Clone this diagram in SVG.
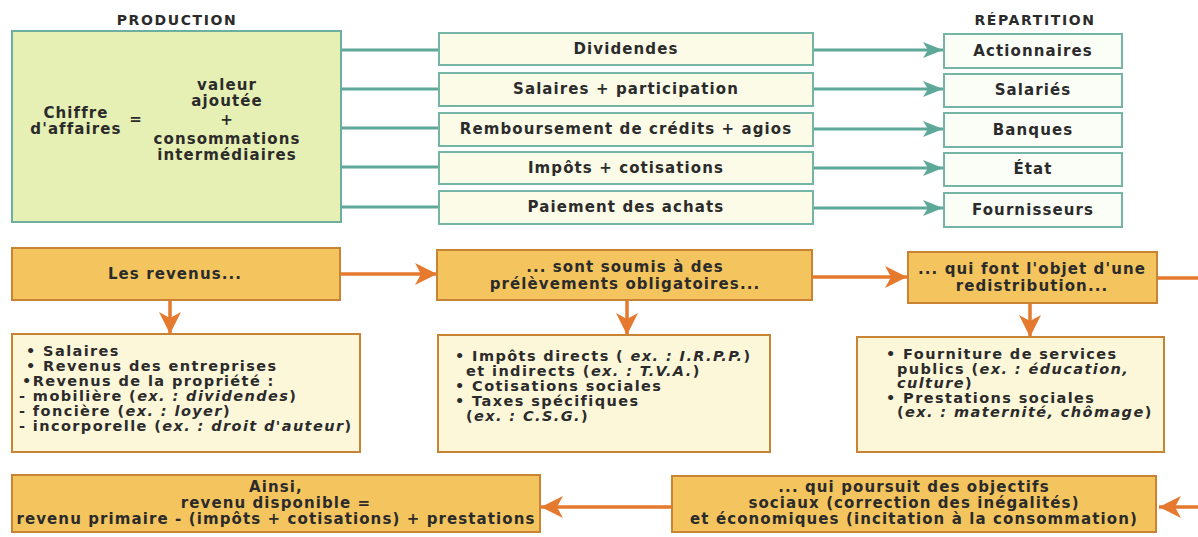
<svg xmlns="http://www.w3.org/2000/svg" width="1198" height="537" viewBox="0 0 1198 537">
<style>
text{font-family:"DejaVu Sans","Liberation Sans",sans-serif;font-weight:bold;fill:#2b2b2b;font-size:15px;letter-spacing:1.1px}
.c{text-anchor:middle}
.l{font-size:14.5px;letter-spacing:1.4px}
.t{font-size:14px;letter-spacing:1.6px}
.i{font-style:italic}
.green{fill:#e7f0b4;stroke:#6aaf9f;stroke-width:2}
.mid{fill:#fbfbe7;stroke:#74b5a6;stroke-width:2}
.rep{fill:#fbfdf7;stroke:#74b5a6;stroke-width:2}
.gold{fill:#f4c55e;stroke:#c98334;stroke-width:2}
.cream{fill:#fdf7da;stroke:#c98334;stroke-width:2}
.tl{stroke:#5ea89a;stroke-width:3;fill:none}
.ol{stroke:#e57a2e;stroke-width:3.5;fill:none}
</style>
<defs>
<marker id="ta" markerUnits="userSpaceOnUse" markerWidth="20" markerHeight="16" refX="20" refY="8" orient="auto"><path d="M0,0 L20,8 L0,16 L5,8 z" fill="#5ea89a"/></marker>
<marker id="oa" markerUnits="userSpaceOnUse" markerWidth="22" markerHeight="22" refX="22" refY="11" orient="auto"><path d="M0,0 L22,11 L0,22 L6,11 z" fill="#e57a2e"/></marker>
</defs>

<text class="c t" x="177" y="25">PRODUCTION</text>
<text class="c t" x="1035" y="25">RÉPARTITION</text>

<g id="connectors">
<path class="tl" d="M341,50 H439"/>
<path class="tl" d="M341,89 H439"/>
<path class="tl" d="M341,128 H439"/>
<path class="tl" d="M341,167 H439"/>
<path class="tl" d="M341,207 H439"/>
<path class="tl" d="M813,50 H943" marker-end="url(#ta)"/>
<path class="tl" d="M813,89 H943" marker-end="url(#ta)"/>
<path class="tl" d="M813,129 H943" marker-end="url(#ta)"/>
<path class="tl" d="M813,168 H943" marker-end="url(#ta)"/>
<path class="tl" d="M813,208 H943" marker-end="url(#ta)"/>
<path class="ol" d="M340,274 H437" marker-end="url(#oa)"/>
<path class="ol" d="M812,277 H907" marker-end="url(#oa)"/>
<path class="ol" d="M170,300 V334" marker-end="url(#oa)"/>
<path class="ol" d="M627,300 V335" marker-end="url(#oa)"/>
<path class="ol" d="M1030,303 V337" marker-end="url(#oa)"/>
<path class="ol" d="M1157,278 H1215 V507 H1159" marker-end="url(#oa)"/>
<path class="ol" d="M671,507 H541" marker-end="url(#oa)"/>
</g>

<g id="production">
<rect class="green" x="12" y="31" width="329" height="191"/>
<text class="c" x="76" y="118">Chiffre</text>
<text class="c" x="76" y="134">d'affaires</text>
<text class="c" x="136" y="124">=</text>
<text class="c" x="227" y="90">valeur</text>
<text class="c" x="227" y="106">ajoutée</text>
<text class="c" x="227" y="125">+</text>
<text class="c" x="227" y="144">consommations</text>
<text class="c" x="227" y="160">intermédiaires</text>
</g>

<g id="dividendes"><rect class="mid" x="439" y="33" width="374" height="32"/><text class="c" x="626" y="54">Dividendes</text></g>
<g id="salaires"><rect class="mid" x="439" y="73" width="374" height="33"/><text class="c" x="626" y="94">Salaires + participation</text></g>
<g id="remboursement"><rect class="mid" x="439" y="113" width="374" height="33"/><text class="c" x="626" y="134">Remboursement de crédits + agios</text></g>
<g id="impots"><rect class="mid" x="439" y="152" width="374" height="32"/><text class="c" x="626" y="173">Impôts + cotisations</text></g>
<g id="paiement"><rect class="mid" x="439" y="191" width="374" height="33"/><text class="c" x="626" y="212">Paiement des achats</text></g>

<g id="actionnaires"><rect class="rep" x="944" y="34" width="178" height="34"/><text class="c" x="1033" y="56">Actionnaires</text></g>
<g id="salaries"><rect class="rep" x="944" y="74" width="178" height="33"/><text class="c" x="1033" y="95">Salariés</text></g>
<g id="banques"><rect class="rep" x="944" y="113" width="178" height="34"/><text class="c" x="1033" y="135">Banques</text></g>
<g id="etat"><rect class="rep" x="944" y="153" width="178" height="33"/><text class="c" x="1033" y="174">État</text></g>
<g id="fournisseurs"><rect class="rep" x="944" y="193" width="178" height="34"/><text class="c" x="1033" y="215">Fournisseurs</text></g>

<g id="revenus"><rect class="gold" x="12" y="248" width="328" height="52"/><text class="c" x="175" y="279">Les revenus...</text></g>
<g id="prelevements"><rect class="gold" x="437" y="250" width="375" height="50"/>
<text class="c" x="625" y="272">... sont soumis à des</text>
<text class="c" x="625" y="289">prélèvements obligatoires...</text></g>
<g id="redistribution"><rect class="gold" x="908" y="252" width="249" height="51"/>
<text class="c" x="1032" y="274">... qui font l'objet d'une</text>
<text class="c" x="1032" y="291">redistribution...</text></g>

<g id="liste-revenus"><rect class="cream" x="12" y="334" width="348" height="118"/>
<text class="l" x="26" y="356">• Salaires</text>
<text class="l" x="26" y="371">• Revenus des entreprises</text>
<text class="l" x="22" y="386">•Revenus de la propriété :</text>
<text class="l" x="19" y="401">- mobilière (<tspan class="i">ex. : dividendes</tspan>)</text>
<text class="l" x="19" y="416">- foncière (<tspan class="i">ex. : loyer</tspan>)</text>
<text class="l" x="19" y="431">- incorporelle (<tspan class="i">ex. : droit d'auteur</tspan>)</text>
</g>

<g id="liste-prelevements"><rect class="cream" x="438" y="335" width="332" height="117"/>
<text class="l" x="455" y="361">• Impôts directs ( <tspan class="i">ex. : I.R.P.P.</tspan>)</text>
<text class="l" x="466" y="376">et indirects (<tspan class="i">ex. : T.V.A.</tspan>)</text>
<text class="l" x="455" y="391">• Cotisations sociales</text>
<text class="l" x="455" y="406">• Taxes spécifiques</text>
<text class="l" x="466" y="421">(<tspan class="i">ex. : C.S.G.</tspan>)</text>
</g>

<g id="liste-redistribution"><rect class="cream" x="857" y="337" width="307" height="115"/>
<text class="l" x="886" y="359">• Fourniture de services</text>
<text class="l" x="897" y="374">publics (<tspan class="i">ex. : éducation,</tspan></text>
<text class="l" x="897" y="388"><tspan class="i">culture</tspan>)</text>
<text class="l" x="886" y="403">• Prestations sociales</text>
<text class="l" x="897" y="417">(<tspan class="i">ex. : maternité, chômage</tspan>)</text>
</g>

<g id="objectifs"><rect class="gold" x="672" y="476" width="484" height="56"/>
<text class="c" x="914" y="492">... qui poursuit des objectifs</text>
<text class="c" x="914" y="508">sociaux (correction des inégalités)</text>
<text class="c" x="914" y="524">et économiques (incitation à la consommation)</text></g>

<g id="ainsi"><rect class="gold" x="12" y="475" width="528" height="57"/>
<text class="c" x="276" y="492">Ainsi,</text>
<text class="c" x="276" y="508">revenu disponible =</text>
<text class="c" x="276" y="524">revenu primaire - (impôts + cotisations) + prestations</text></g>
</svg>
